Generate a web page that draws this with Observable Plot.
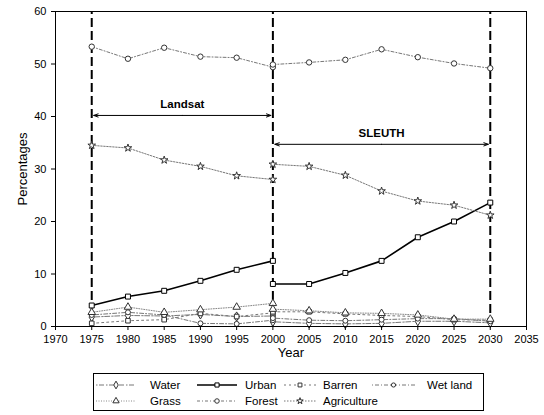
<!DOCTYPE html>
<html><head><meta charset="utf-8">
<script src="https://cdn.jsdelivr.net/npm/d3@7"></script>
<script src="https://cdn.jsdelivr.net/npm/@observablehq/plot@0.6"></script>
<style>
body{margin:0;background:#fff;font-family:"Liberation Sans",Arial,sans-serif;}
#wrap{width:544px;}
svg{display:block;}
</style></head><body><div id="wrap"></div>
<script>
const yearsL = [1975,1980,1985,1990,1995,2000];
const yearsS = [2000,2005,2010,2015,2020,2025,2030];
const series = ["Water","Urban","Barren","Wet land","Grass","Forest","Agriculture"];
const waterL = [1.8,2.1,2.0,2.3,1.9,2.0];
const waterS = [0.9,0.6,0.5,0.6,1.0,1.0,0.7];
const urbanL = [4.0,5.7,6.8,8.7,10.8,12.5];
const urbanS = [8.1,8.1,10.2,12.5,17.0,20.0,23.6];
const barrenL = [0.6,1.1,1.3,2.5,1.9,2.6];
const barrenS = [2.8,2.8,2.4,2.1,1.9,1.3,1.2];
const wetL = [2.2,2.7,2.2,0.6,0.5,1.2];
const wetS = [1.6,1.2,1.1,1.3,1.5,1.5,1.0];
const grassL = [2.7,3.7,2.7,3.2,3.7,4.4];
const grassS = [3.3,3.0,2.6,2.5,2.2,1.4,1.4];
const forestL = [53.3,51.0,53.1,51.4,51.2,49.4];
const forestS = [49.9,50.3,50.8,52.8,51.3,50.1,49.2];
const agriL = [34.5,34.0,31.7,30.5,28.7,28.0];
const agriS = [30.9,30.5,28.8,25.8,23.9,23.1,21.2];
const periodLines = [1975,2000,2030];
const periods = [
  {name:"Landsat", x1:1975, x2:2000, y:40.2, ly:42.3},
  {name:"SLEUTH", x1:2000, x2:2030, y:34.7, ly:36.8}
];
const xTicks = [1970,1975,1980,1985,1990,1995,2000,2005,2010,2015,2020,2025,2030,2035];
const yTicks = [0,10,20,30,40,50,60];

const valsL = [waterL,urbanL,barrenL,wetL,grassL,forestL,agriL];
const valsS = [waterS,urbanS,barrenS,wetS,grassS,forestS,agriS];
const style = {
  "Water":      {symbol:"diamond", stroke:"#777", dash:"1.5,1.5,5,2", w:1, r:2.8},
  "Urban":      {symbol:"square", stroke:"#000", dash:null, w:1.6, r:2.8},
  "Barren":     {symbol:"square", stroke:"#777", dash:"2,3", w:1, r:2.6},
  "Wet land":   {symbol:"circle", stroke:"#777", dash:"1,2,4,2", w:1, r:2.5},
  "Grass":      {symbol:"triangle", stroke:"#888", dash:"1,1.5", w:1, r:2.8},
  "Forest":     {symbol:"circle", stroke:"#777", dash:"3,2,1,2", w:1, r:2.7},
  "Agriculture":{symbol:"star", stroke:"#777", dash:"1.5,1.5", w:1, r:2.4}
};
const data = [];
series.forEach((s,i)=>{
  yearsL.forEach((y,j)=>data.push({series:s, period:"L", year:y, value:valsL[i][j]}));
  yearsS.forEach((y,j)=>data.push({series:s, period:"S", year:y, value:valsS[i][j]}));
});
const arrows = periods.flatMap(p=>[
  {x1:(p.x1+p.x2)/2, x2:p.x1, y:p.y},
  {x1:(p.x1+p.x2)/2, x2:p.x2, y:p.y}
]);

const marks = [];
for (const s of series) {
  const st = style[s];
  const d = data.filter(r=>r.series===s);
  marks.push(Plot.line(d, {x:"year", y:"value", z:"period", stroke:st.stroke, strokeWidth:st.w, strokeDasharray:st.dash||undefined}));
}
marks.push(Plot.ruleX(periodLines, {y1:0, y2:60, stroke:"#000", strokeWidth:2, strokeDasharray:"9,4"}));
for (const s of series) {
  const st = style[s];
  const d = data.filter(r=>r.series===s);
  marks.push(Plot.dot(d, {x:"year", y:"value", symbol:()=>st.symbol, r:st.r, fill:"#fff", stroke: s==="Urban"?"#000":"#333", strokeWidth:1}));
}
marks.push(Plot.arrow(arrows, {x1:"x1", x2:"x2", y1:"y", y2:"y", stroke:"#000", strokeWidth:1, headLength:7, headAngle:40, insetEnd:2}));
marks.push(Plot.text(periods, {x:d=>(d.x1+d.x2)/2, y:"ly", text:"name", fontWeight:"bold", fontSize:11.5, fill:"#000"}));
marks.push(Plot.frame({stroke:"#000"}));
marks.push(Plot.axisX({ticks:xTicks, tickFormat:"d", tickSize:4, fontSize:11, label:"Year", labelAnchor:"center", labelArrow:"none", labelOffset:30}));
marks.push(Plot.axisY({ticks:yTicks, tickSize:4, fontSize:11, label:"Percentages", labelAnchor:"center", labelArrow:"none", labelOffset:38}));

const chart = Plot.plot({
  width:544, height:368,
  marginLeft:55, marginRight:18, marginTop:11, marginBottom:42,
  x:{domain:[1970,2035]},
  y:{domain:[0,60]},
  style:{fontFamily:"Liberation Sans, Arial, sans-serif", fontSize:"11px", color:"#000", background:"#fff"},
  marks
});
d3.select(chart).selectAll("[aria-label='x-axis label'] text, [aria-label='y-axis label'] text").style("font-size","13px");
document.getElementById("wrap").appendChild(chart);

// Legend
const lg = d3.select("#wrap").append("svg").attr("width",544).attr("height",47)
  .style("font-family","Liberation Sans, Arial, sans-serif").style("font-size","11.5px");
lg.append("rect").attr("x",93.5).attr("y",5.5).attr("width",390).attr("height",37).attr("fill","none").attr("stroke","#000");
const pos = [
  {s:"Water", x0:96, x1:136, tx:150, y:17},
  {s:"Urban", x0:197, x1:237, tx:245, y:17},
  {s:"Barren", x0:284, x1:316, tx:323, y:17},
  {s:"Wet land", x0:372, x1:415, tx:427, y:17},
  {s:"Grass", x0:96, x1:136, tx:150, y:33},
  {s:"Forest", x0:197, x1:237, tx:245, y:33},
  {s:"Agriculture", x0:284, x1:316, tx:323, y:33}
];
for (const p of pos) {
  const st = style[p.s];
  lg.append("line").attr("x1",p.x0).attr("x2",p.x1).attr("y1",p.y).attr("y2",p.y)
    .attr("stroke",st.stroke).attr("stroke-width",st.w).attr("stroke-dasharray",st.dash);
  const sym = {diamond:d3.symbolDiamond, square:d3.symbolSquare, circle:d3.symbolCircle, triangle:d3.symbolTriangle, star:d3.symbolStar}[st.symbol];
  lg.append("path").attr("d",d3.symbol(sym, 2.2*st.r*st.r)()).attr("transform",`translate(${(p.x0+p.x1)/2},${p.y})`)
    .attr("fill","#fff").attr("stroke",p.s==="Urban"?"#000":"#333");
  lg.append("text").attr("x",p.tx).attr("y",p.y).attr("dy","0.35em").text(p.s);
}
</script></body></html>
